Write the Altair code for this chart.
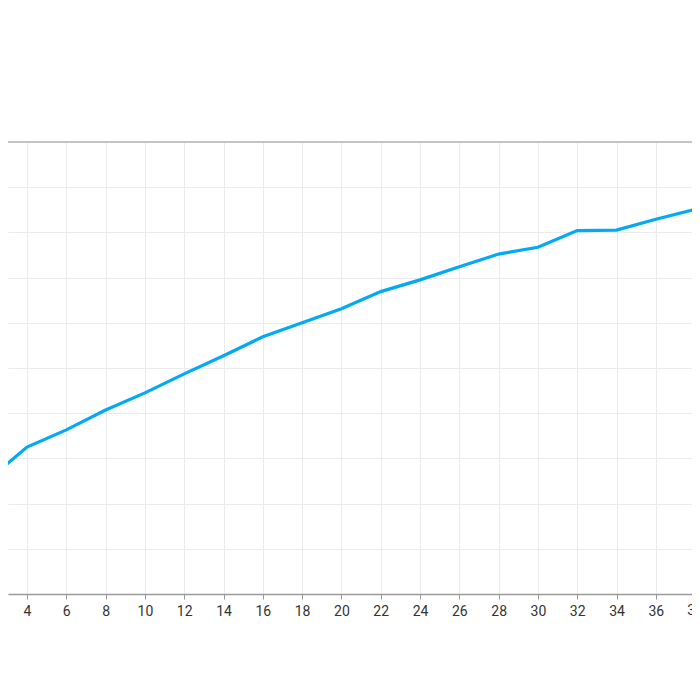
import altair as alt
import pandas as pd

# data
x_vals = [2, 4, 6, 8, 10, 12, 14, 16, 18, 20, 22, 24, 26, 28, 30, 32, 34, 36, 38, 40]
y_vals = [25.2, 32.5, 36.3, 40.7, 44.5, 48.7, 52.7, 56.9, 60.0, 63.1, 66.9, 69.5,
          72.4, 75.2, 76.7, 80.4, 80.5, 82.9, 85.1, 87.4]
x_ticks = list(range(4, 40, 2))
edge_ticks = [38]
y_ticks = list(range(0, 101, 10))

df = pd.DataFrame({"x": x_vals, "y": y_vals})

x_scale = alt.Scale(domain=[3.033, 37.84], nice=False, zero=False)
y_scale = alt.Scale(domain=[0, 100], nice=False)

line = alt.Chart(df).mark_line(color="#03a9f4", strokeWidth=3.2, clip=True).encode(
    x=alt.X("x:Q", scale=x_scale,
            axis=alt.Axis(values=x_ticks, title=None, grid=True, gridColor="#ebebeb",
                          domainColor="#9a9a9a", domainWidth=1.5, tickColor="#9a9a9a",
                          tickSize=5, labelColor="#333333", labelFontSize=14,
                          labelFont="Roboto", labelPadding=5, labelFlush=False)),
    y=alt.Y("y:Q", scale=y_scale,
            axis=alt.Axis(values=y_ticks, title=None, grid=True, gridColor="#ebebeb",
                          labels=False, ticks=False, domain=False)),
)

top = alt.Chart(pd.DataFrame({"v": [100]})).mark_rule(color="#c4c4c4", strokeWidth=2).encode(
    y=alt.Y("v:Q", scale=y_scale)
)

edge_label = alt.Chart(pd.DataFrame({"t": edge_ticks})).mark_text(
    font="Roboto", fontSize=14, color="#333333", baseline="top", align="center"
).encode(
    x=alt.X("t:Q", scale=x_scale),
    y=alt.value(462),
    text=alt.Text("t:Q"),
)

chart = alt.layer(line, top, edge_label).properties(
    width=684, height=452,
    padding={"left": 0, "top": 134, "right": 0, "bottom": 40},
    autosize=alt.AutoSizeParams(type="none"),
).configure_view(stroke=None)

chart.save("out.html", embed_options={"renderer": "svg", "actions": False})
